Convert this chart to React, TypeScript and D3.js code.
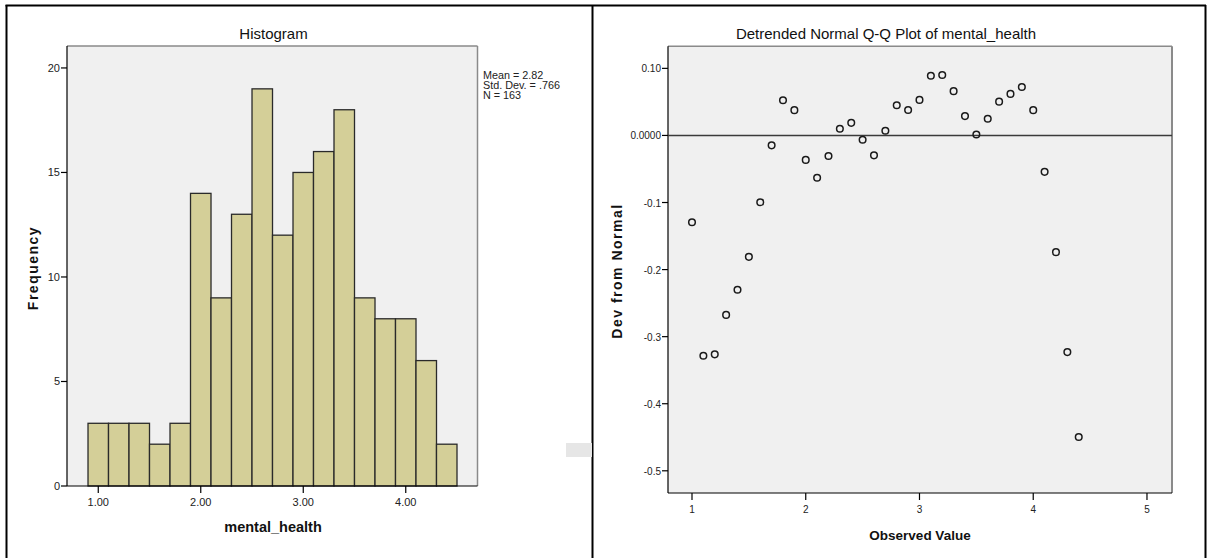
import React from "react";
import * as d3 from "d3";

// Histogram data (bin start, count), bin width 0.2
const binStarts = [0.9, 1.1, 1.3, 1.5, 1.7, 1.9, 2.1, 2.3, 2.5, 2.7, 2.9, 3.1, 3.3, 3.5, 3.7, 3.9, 4.1, 4.3];
const binCounts = [3, 3, 3, 2, 3, 14, 9, 13, 19, 12, 15, 16, 18, 9, 8, 8, 6, 2];
const binWidth = 0.2;
const histXTicks = [1, 2, 3, 4];
const histYTicks = [0, 5, 10, 15, 20];
const statsLines = ["Mean = 2.82", "Std. Dev. = .766", "N = 163"];

// Detrended Q-Q data
const qqObserved = [1.0, 1.1, 1.2, 1.3, 1.4, 1.5, 1.6, 1.7, 1.8, 1.9, 2.0, 2.1, 2.2, 2.3, 2.4, 2.5, 2.6, 2.7, 2.8, 2.9, 3.0, 3.1, 3.2, 3.3, 3.4, 3.5, 3.6, 3.7, 3.8, 3.9, 4.0, 4.1, 4.2, 4.3, 4.4];
const qqDev = [-0.1295, -0.3284, -0.3264, -0.2676, -0.23, -0.181, -0.0995, -0.0148, 0.0525, 0.0377, -0.0365, -0.063, -0.0306, 0.0099, 0.0188, -0.0064, -0.0297, 0.007, 0.045, 0.038, 0.053, 0.089, 0.090, 0.066, 0.0288, 0.0015, 0.0248, 0.0504, 0.0619, 0.0723, 0.0377, -0.0543, -0.174, -0.323, -0.4497];
const qqXTicks = [1, 2, 3, 4, 5];
const qqYTicks = [0.1, 0.0, -0.1, -0.2, -0.3, -0.4, -0.5];
const qqYTickLabels = ["0.10", "0.0000", "-0.1", "-0.2", "-0.3", "-0.4", "-0.5"];

const FONT = "'Liberation Sans', Arial, sans-serif";

export default function App() {
  // Histogram geometry
  const hL = 67, hR = 477.5, hT = 46, hB = 486;
  const hx = d3.scaleLinear().domain([0.695, 4.70]).range([hL, hR]);
  const hy = d3.scaleLinear().domain([0, 21.05]).range([hB, hT]);

  // QQ geometry
  const qL = 668, qR = 1172, qT = 46.3, qB = 493;
  const qx = d3.scaleLinear().domain([0.789, 5.22]).range([qL, qR]);
  const qy = d3.scaleLinear().domain([-0.5331, 0.1329]).range([qB, qT]);

  const tickFont = { fontFamily: FONT, fontSize: 11, fill: "#222" } as const;

  return (
    <svg width={1207} height={558} style={{ position: "absolute", left: 0, top: 0, background: "#fff" }}>
      {/* outer panel borders */}
      <line x1={6.5} y1={5} x2={6.5} y2={558} stroke="#000" strokeWidth={2} />
      <line x1={5.5} y1={5.5} x2={1206} y2={5.5} stroke="#000" strokeWidth={2} />
      <line x1={592.5} y1={5} x2={592.5} y2={558} stroke="#000" strokeWidth={2} />
      <line x1={1205.5} y1={5} x2={1205.5} y2={558} stroke="#000" strokeWidth={2} />
      <rect x={566} y={443} width={26} height={14} fill="#e6e6e6" />

      {/* ---------- Histogram ---------- */}
      <text x={273.5} y={38.5} textAnchor="middle" fontFamily={FONT} fontSize={15} fill="#111">Histogram</text>
      <rect x={hL} y={hT} width={hR - hL} height={hB - hT} fill="#f0f0f0" />
      <line x1={hL} y1={hT} x2={hR} y2={hT} stroke="#8a8a8a" strokeWidth={1.5} />
      <line x1={hR} y1={hT} x2={hR} y2={hB} stroke="#8a8a8a" strokeWidth={1.5} />
      {binStarts.map((b, i) => (
        <rect key={i}
          x={hx(b)} y={hy(binCounts[i])}
          width={hx(b + binWidth) - hx(b)} height={hB - hy(binCounts[i])}
          fill="#d4cf98" stroke="#2a2a2a" strokeWidth={1.3} />
      ))}
      <line x1={hL} y1={hT} x2={hL} y2={hB} stroke="#000" strokeWidth={1.2} />
      <line x1={hL} y1={hB} x2={hR} y2={hB} stroke="#000" strokeWidth={1.2} />
      {histYTicks.map((t) => (
        <g key={t}>
          <line x1={hL - 6} y1={hy(t)} x2={hL} y2={hy(t)} stroke="#000" strokeWidth={1.2} />
          <text x={hL - 7} y={hy(t) + 4} textAnchor="end" {...tickFont}>{t}</text>
        </g>
      ))}
      {histXTicks.map((t) => (
        <g key={t}>
          <line x1={hx(t)} y1={hB} x2={hx(t)} y2={hB + 7} stroke="#000" strokeWidth={1.2} />
          <text x={hx(t)} y={hB + 20} textAnchor="middle" {...tickFont}>{d3.format(".2f")(t)}</text>
        </g>
      ))}
      <text x={273} y={532} textAnchor="middle" fontFamily={FONT} fontSize={14.5} fontWeight="bold" fill="#111">mental_health</text>
      <text transform={`translate(38,268) rotate(-90)`} textAnchor="middle" fontFamily={FONT} fontSize={14} fontWeight="bold" letterSpacing={1.5} fill="#111">Frequency</text>
      {statsLines.map((s, i) => (
        <text key={i} x={483} y={79 + i * 10} fontFamily={FONT} fontSize={10.8} fill="#222">{s}</text>
      ))}

      {/* ---------- Detrended Q-Q ---------- */}
      <text x={886} y={38.5} textAnchor="middle" fontFamily={FONT} fontSize={15} fill="#111">Detrended Normal Q-Q Plot of mental_health</text>
      <rect x={qL} y={qT} width={qR - qL} height={qB - qT} fill="#f0f0f0" />
      <line x1={qL} y1={qT} x2={qR} y2={qT} stroke="#8a8a8a" strokeWidth={1.5} />
      <line x1={qR} y1={qT} x2={qR} y2={qB} stroke="#8a8a8a" strokeWidth={2} />
      <line x1={qL} y1={qT} x2={qL} y2={qB} stroke="#000" strokeWidth={1.2} />
      <line x1={qL} y1={qB} x2={qR} y2={qB} stroke="#000" strokeWidth={1.2} />
      <line x1={qL} y1={qy(0)} x2={qR} y2={qy(0)} stroke="#3a3a3a" strokeWidth={1.6} />
      {qqYTicks.map((t, i) => (
        <g key={i}>
          <line x1={qL - 6} y1={qy(t)} x2={qL} y2={qy(t)} stroke="#000" strokeWidth={1.2} />
          <text x={qL - 7} y={qy(t) + 4} textAnchor="end" {...tickFont} fontSize={10}>{qqYTickLabels[i]}</text>
        </g>
      ))}
      {qqXTicks.map((t) => (
        <g key={t}>
          <line x1={qx(t)} y1={qB} x2={qx(t)} y2={qB + 7} stroke="#000" strokeWidth={1.2} />
          <text x={qx(t)} y={qB + 20} textAnchor="middle" {...tickFont} fontSize={10}>{t}</text>
        </g>
      ))}
      {qqObserved.map((v, i) => (
        <circle key={i} cx={qx(v)} cy={qy(qqDev[i])} r={3.3} fill="none" stroke="#1a1a1a" strokeWidth={1.5} />
      ))}
      <text x={920} y={540} textAnchor="middle" fontFamily={FONT} fontSize={13.5} fontWeight="bold" fill="#111">Observed Value</text>
      <text transform={`translate(622,271) rotate(-90)`} textAnchor="middle" fontFamily={FONT} fontSize={14} fontWeight="bold" letterSpacing={1.5} fill="#111">Dev from Normal</text>
    </svg>
  );
}
